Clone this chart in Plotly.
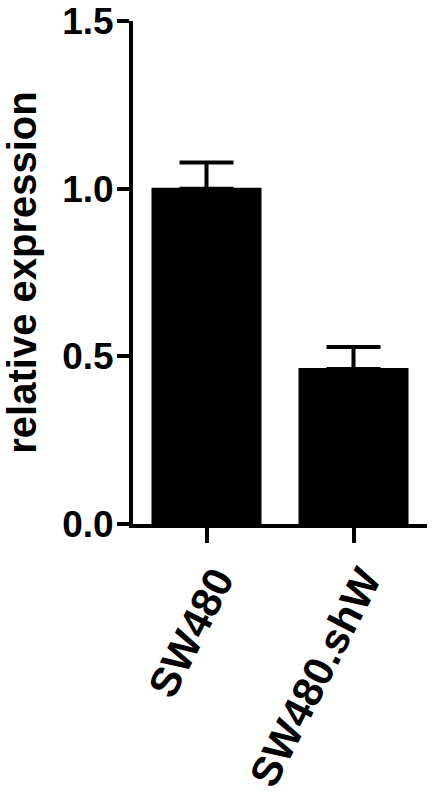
import plotly.graph_objects as go

categories = ["SW480", "SW480.shW"]
values = [1.0, 0.462]
errors_up = [0.078, 0.066]
y_ticks = [0.0, 0.5, 1.0, 1.5]
y_tick_labels = ["0.0", "0.5", "1.0", "1.5"]

FONT = "Liberation Sans, Arial, sans-serif"

fig = go.Figure(
    go.Bar(
        x=categories,
        y=values,
        marker=dict(color="black", line=dict(color="black", width=2)),
        error_y=dict(
            type="data",
            symmetric=False,
            array=errors_up,
            arrayminus=[0, 0],
            color="black",
            thickness=4,
            width=27,
        ),
    )
)

fig.update_layout(
    width=432,
    height=793,
    margin=dict(l=133, r=5, t=21, b=269),
    plot_bgcolor="white",
    paper_bgcolor="white",
    bargap=0.265,
    showlegend=False,
    font=dict(family=FONT, color="black"),
)

fig.update_xaxes(
    range=[-0.5, 1.5],
    automargin=False,
    showline=True,
    linecolor="black",
    linewidth=4,
    ticks="outside",
    ticklen=15,
    tickwidth=4,
    tickcolor="black",
    tickangle=-63,
    ticklabelstandoff=-4,
    ticklabelshift=10,
    tickfont=dict(family=FONT, size=42, color="black", weight="bold"),
    showgrid=False,
    zeroline=False,
)

fig.update_yaxes(
    range=[0, 1.5],
    automargin=False,
    tickvals=y_ticks,
    ticktext=y_tick_labels,
    showline=True,
    linecolor="black",
    linewidth=4,
    ticks="outside",
    ticklen=12,
    tickwidth=4,
    tickcolor="black",
    ticklabelstandoff=-4,
    ticklabeloverflow="allow",
    tickfont=dict(family=FONT, size=37, color="black", weight="bold"),
    title=dict(text="relative expression", font=dict(family=FONT, size=40, color="black", weight="bold"), standoff=16),
    showgrid=False,
    zeroline=False,
)

fig.write_html(
    "out.html",
    config={"displayModeBar": False},
    post_script="document.body.style.margin='0';",
)
